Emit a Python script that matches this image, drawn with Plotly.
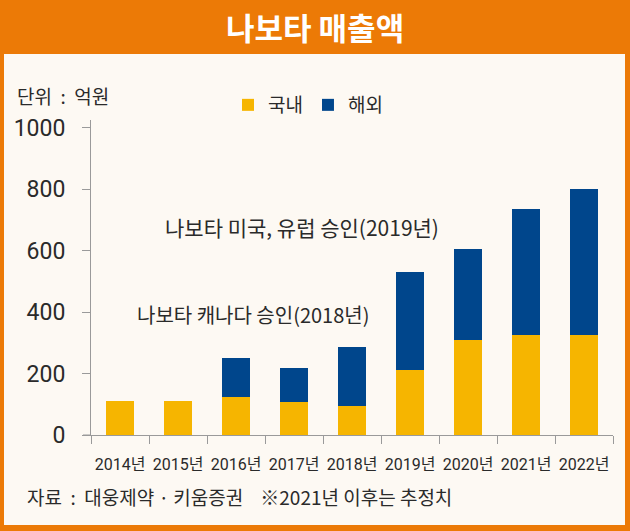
import plotly.graph_objects as go

years = ["2014년", "2015년", "2016년", "2017년", "2018년", "2019년", "2020년", "2021년", "2022년"]
domestic = [110, 110, 125, 108, 95, 212, 309, 325, 325]
overseas = [0, 0, 125, 110, 191, 320, 295, 412, 475]
series_names = ["국내", "해외"]
y_ticks = [0, 200, 400, 600, 800, 1000]

W, H = 630, 531
L, R, T, B = 91, 17, 120, 96
PW, PH = W - L - R, H - T - B

def px(x):
    return (x - L) / PW

def py(y):
    return (H - B - y) / PH

ORANGE = "#EC7A06"
CREAM = "#FDF9F3"
YELLOW = "#F6B500"
BLUE = "#00468C"
TEXT = "#2a2a2a"
KFONT = "Noto Sans CJK KR, Noto Sans, sans-serif"
NFONT = "Roboto, Noto Sans CJK KR, sans-serif"

fig = go.Figure()
fig.add_trace(go.Bar(x=years, y=domestic, name=series_names[0], marker=dict(color=YELLOW, line=dict(width=0))))
fig.add_trace(go.Bar(x=years, y=overseas, name=series_names[1], marker=dict(color=BLUE, line=dict(width=0))))

shapes = [
    dict(type="rect", xref="paper", yref="paper", x0=px(0), x1=px(W), y0=py(54), y1=py(0), fillcolor=ORANGE, line_width=0),
    dict(type="rect", xref="paper", yref="paper", x0=px(0), x1=px(4), y0=py(H), y1=py(0), fillcolor=ORANGE, line_width=0),
    dict(type="rect", xref="paper", yref="paper", x0=px(625), x1=px(W), y0=py(H), y1=py(0), fillcolor=ORANGE, line_width=0),
    dict(type="rect", xref="paper", yref="paper", x0=px(0), x1=px(W), y0=py(H), y1=py(525), fillcolor=ORANGE, line_width=0),
    dict(type="line", xref="paper", yref="paper", x0=px(83), x1=px(91), y0=0, y1=0, line=dict(color="#9a9a9a", width=1)),
]

def ann(text, x, y, size, color=TEXT, anchor="left", bold=False):
    return dict(text=f"<b>{text}</b>" if bold else text, x=px(x), y=py(y), xref="paper", yref="paper",
                showarrow=False, xanchor=anchor, yanchor="middle",
                font=dict(family=KFONT, size=size, color=color))

annotations = [
    ann("나보타 매출액", 315, 27, 31, color="white", anchor="center", bold=True),
    ann("단위 &nbsp;:&nbsp; 억원", 15, 95, 19),
    ann("나보타 미국, 유럽 승인(2019년)", 163, 227, 21),
    ann("나보타 캐나다 승인(2018년)", 135, 314, 20),
    ann("자료 &nbsp;:&nbsp; 대웅제약 · 키움증권 &nbsp;&nbsp;&nbsp;※2021년 이후는 추정치", 25, 496, 19),
]

fig.update_layout(
    width=W, height=H,
    margin=dict(l=L, r=R, t=T, b=B, pad=0, autoexpand=False),
    paper_bgcolor=CREAM,
    plot_bgcolor="rgba(0,0,0,0)",
    barmode="stack",
    bargap=0.52,
    showlegend=True,
    legend=dict(orientation="h", x=px(228), y=py(105), xanchor="left", yanchor="middle",
                font=dict(family=KFONT, size=19, color=TEXT), bgcolor="rgba(0,0,0,0)",
                traceorder="normal", itemclick=False),
    shapes=shapes,
    annotations=annotations,
    xaxis=dict(showline=True, linecolor="#9a9a9a", linewidth=1, ticks="outside", tickson="boundaries",
               ticklen=8, tickcolor="#9a9a9a", showgrid=False, zeroline=False, tickangle=0, automargin=False,
               ticklabelstandoff=15,
               tickfont=dict(family=NFONT, size=16, color=TEXT), fixedrange=True),
    yaxis=dict(range=[0, 1025], tickvals=y_ticks, showline=True, linecolor="#9a9a9a", linewidth=1,
               ticks="outside", ticklen=8, tickcolor="#9a9a9a", showgrid=False, zeroline=False, automargin=False,
               ticklabelstandoff=12,
               tickfont=dict(family=NFONT, size=23, color=TEXT), fixedrange=True),
)

fig.write_html("out.html", config={"displayModeBar": False},
               post_script="document.body.style.margin='0';")
